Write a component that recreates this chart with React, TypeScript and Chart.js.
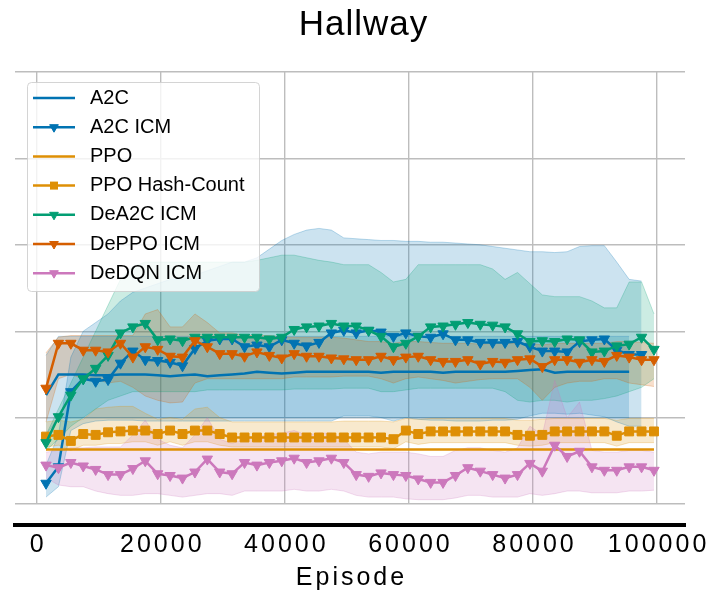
import React, { useEffect, useRef } from 'react';
import { Chart, registerables, LinearScale } from 'chart.js';

Chart.register(...registerables);

class SpacedLinearScale extends LinearScale {
  static id = 'spacedLinear';
  static defaults = LinearScale.defaults;
  drawLabels(chartArea: any) {
    const ctx = this.ctx as any;
    ctx.save();
    ctx.letterSpacing = '3px';
    ctx.translate(1.5, 0);
    super.drawLabels(chartArea);
    ctx.restore();
  }
  drawTitle() {
    const ctx = this.ctx as any;
    ctx.save();
    ctx.letterSpacing = '3px';
    ctx.translate(1.5, 0);
    super.drawTitle();
    ctx.restore();
  }
}
Chart.register(SpacedLinearScale as any);

const FONT = "'Liberation Sans', Arial, Helvetica, sans-serif";

// ---------------- data ----------------
const episodes = [
  1500, 3500, 5500, 7500, 9500, 11500, 13500, 15500, 17500, 19500,
  21500, 23500, 25500, 27500, 29500, 31500, 33500, 35500, 37500, 39500,
  41500, 43500, 45500, 47500, 49500, 51500, 53500, 55500, 57500, 59500,
  61500, 63500, 65500, 67500, 69500, 71500, 73500, 75500, 77500, 79500,
  81500, 83500, 85500, 87500, 89500, 91500, 93500, 95500, 97500, 99500,
];
const xTickValues = [0, 20000, 40000, 60000, 80000, 100000];
const yGridValues = [0, 1, 2, 3, 4, 5];

const a2cMean = [
  1.26, 1.50, 1.50, 1.50, 1.49, 1.49, 1.50, 1.50, 1.50, 1.49,
  1.48, 1.49, 1.50, 1.48, 1.49, 1.50, 1.51, 1.53, 1.52, 1.51,
  1.52, 1.53, 1.53, 1.53, 1.53, 1.53, 1.53, 1.52, 1.53, 1.53,
  1.53, 1.53, 1.52, 1.53, 1.53, 1.53, 1.53, 1.53, 1.54, 1.55,
  1.56, 1.52, 1.53, 1.53, 1.53, 1.53, 1.53, 1.53, null, null,
];
const a2cLo = [
  0.80, 1.00, 1.00, 1.00, 1.00, 1.00, 1.00, 1.00, 1.00, 1.00,
  1.00, 1.00, 1.00, 1.00, 1.00, 1.00, 1.00, 1.00, 1.00, 1.00,
  1.00, 1.00, 1.00, 1.00, 1.00, 1.00, 1.00, 1.00, 1.00, 1.00,
  1.00, 1.00, 1.00, 1.00, 1.00, 1.00, 1.00, 1.00, 1.00, 1.00,
  1.00, 1.00, 1.00, 1.00, 1.00, 1.00, 1.00, 1.00, null, null,
];
const a2cHi = [
  1.72, 1.94, 1.94, 1.94, 1.94, 1.94, 1.94, 1.94, 1.94, 1.94,
  1.94, 1.94, 1.94, 1.94, 1.94, 1.94, 1.94, 1.94, 1.94, 1.94,
  1.94, 1.94, 1.94, 1.94, 1.94, 1.94, 1.94, 1.94, 1.94, 1.94,
  1.94, 1.94, 1.94, 1.94, 1.94, 1.94, 1.94, 1.94, 1.94, 1.94,
  1.94, 1.94, 1.94, 1.94, 1.94, 1.94, 1.94, 1.94, null, null,
];

const a2cIcmMean = [
  0.24, 0.43, 1.30, 1.45, 1.42, 1.44, 1.63, 1.77, 1.67, 1.66,
  1.64, 1.60, 1.80, 1.89, 1.91, 1.91, 1.82, 1.84, 1.82, 1.90,
  1.86, 1.83, 1.87, 1.98, 2.01, 1.98, 2.01, 1.99, 1.94, 1.98,
  1.94, 1.93, 1.97, 1.90, 1.90, 1.87, 1.87, 1.87, 1.88, 1.82,
  1.77, 1.77, 1.76, 1.88, 1.90, 1.91, 1.78, 1.73, 1.73, null,
];
const a2cIcmHi = [
  0.45, 0.80, 1.70, 2.00, 2.10, 2.20, 2.35, 2.45, 2.50, 2.55,
  2.60, 2.60, 2.65, 2.70, 2.75, 2.80, 2.80, 2.85, 2.95, 3.05,
  3.12, 3.17, 3.19, 3.17, 3.08, 3.07, 3.06, 3.05, 3.05, 3.04,
  3.04, 3.03, 3.03, 3.02, 3.01, 3.00, 2.98, 2.96, 2.94, 2.92,
  2.92, 2.91, 2.92, 2.98, 2.99, 2.99, 2.80, 2.60, 2.58, null,
];
const a2cIcmLo = [
  0.08, 0.20, 0.85, 0.93, 0.96, 0.97, 0.97, 0.97, 0.96, 0.96,
  0.96, 0.96, 0.96, 0.96, 0.96, 0.96, 0.96, 0.96, 0.96, 0.96,
  0.96, 0.96, 0.96, 0.96, 1.02, 1.02, 1.02, 1.00, 0.96, 1.00,
  0.98, 0.97, 0.97, 0.96, 0.96, 0.96, 0.97, 0.97, 0.98, 1.02,
  1.05, 1.05, 1.04, 1.05, 1.03, 1.01, 0.95, 0.90, 0.90, null,
];

const ppoMean = [
  0.63, 0.63, 0.63, 0.63, 0.63, 0.63, 0.63, 0.63, 0.63, 0.63,
  0.63, 0.63, 0.63, 0.63, 0.63, 0.63, 0.63, 0.63, 0.63, 0.63,
  0.63, 0.63, 0.63, 0.63, 0.63, 0.63, 0.63, 0.63, 0.63, 0.63,
  0.63, 0.63, 0.63, 0.63, 0.63, 0.63, 0.63, 0.63, 0.63, 0.63,
  0.63, 0.63, 0.63, 0.63, 0.63, 0.63, 0.63, 0.63, 0.63, 0.63,
];

const ppoHashMean = [
  0.78, 0.80, 0.73, 0.81, 0.80, 0.83, 0.84, 0.85, 0.85, 0.81,
  0.85, 0.81, 0.85, 0.85, 0.81, 0.77, 0.77, 0.77, 0.77, 0.77,
  0.77, 0.77, 0.77, 0.77, 0.77, 0.77, 0.77, 0.77, 0.75, 0.85,
  0.81, 0.84, 0.84, 0.84, 0.84, 0.84, 0.84, 0.84, 0.80, 0.79,
  0.80, 0.84, 0.84, 0.84, 0.84, 0.84, 0.79, 0.84, 0.84, 0.84,
];
const ppoHashHi = [
  0.95, 0.97, 0.95, 0.98, 1.10, 1.12, 1.13, 1.13, 1.05, 0.98,
  1.00, 0.98, 1.10, 1.12, 1.00, 0.95, 0.95, 0.95, 0.95, 0.95,
  0.95, 0.95, 0.95, 0.95, 0.96, 0.96, 0.96, 0.96, 0.95, 0.99,
  0.98, 0.99, 0.99, 0.99, 0.99, 0.99, 0.99, 0.99, 0.97, 0.97,
  0.98, 0.99, 0.99, 0.99, 0.99, 0.99, 0.97, 0.99, 0.99, 0.99,
];
const ppoHashLo = [
  0.66, 0.68, 0.62, 0.68, 0.68, 0.70, 0.70, 0.72, 0.72, 0.68,
  0.72, 0.68, 0.72, 0.72, 0.68, 0.66, 0.66, 0.66, 0.66, 0.66,
  0.66, 0.66, 0.66, 0.66, 0.66, 0.66, 0.66, 0.66, 0.64, 0.72,
  0.69, 0.71, 0.71, 0.71, 0.71, 0.71, 0.71, 0.71, 0.68, 0.67,
  0.68, 0.71, 0.71, 0.71, 0.71, 0.71, 0.67, 0.71, 0.71, 0.71,
];

const deA2cMean = [
  0.71, 1.01, 1.26, 1.45, 1.57, 1.72, 1.98, 2.05, 2.09, 1.90,
  1.91, 1.89, 1.93, 1.93, 1.93, 1.93, 1.93, 1.93, 1.91, 1.93,
  2.02, 2.05, 2.06, 2.09, 2.06, 2.06, 2.01, 1.94, 1.82, 1.86,
  1.94, 2.05, 2.06, 2.08, 2.10, 2.08, 2.07, 2.05, 1.97, 1.88,
  1.89, 1.88, 1.91, 1.90, 1.76, 1.77, 1.83, 1.85, 1.93, 1.79,
];
const deA2cHi = [
  0.80, 1.10, 1.40, 1.70, 2.00, 2.30, 2.60, 2.75, 2.80, 2.80,
  2.80, 2.80, 2.80, 2.80, 2.80, 2.80, 2.80, 2.82, 2.85, 2.88,
  2.88, 2.85, 2.82, 2.80, 2.77, 2.77, 2.77, 2.68, 2.57, 2.60,
  2.77, 2.77, 2.77, 2.77, 2.77, 2.77, 2.72, 2.60, 2.68, 2.55,
  2.42, 2.40, 2.40, 2.40, 2.35, 2.27, 2.27, 2.57, 2.57, 2.20,
];
const deA2cLo = [
  0.62, 0.75, 0.90, 1.00, 1.10, 1.20, 1.25, 1.30, 1.30, 1.30,
  1.30, 1.30, 1.30, 1.32, 1.32, 1.32, 1.32, 1.32, 1.32, 1.32,
  1.33, 1.33, 1.33, 1.33, 1.34, 1.34, 1.34, 1.30, 1.30, 1.32,
  1.34, 1.34, 1.34, 1.34, 1.34, 1.34, 1.34, 1.30, 1.20, 1.18,
  1.20, 1.20, 1.18, 1.20, 1.20, 1.22, 1.25, 1.30, 1.35, 1.45,
];

const dePpoMean = [
  1.34, 1.86, 1.86, 1.78, 1.78, 1.76, 1.86, 1.70, 1.82, 1.79,
  1.71, 1.70, 1.89, 1.82, 1.74, 1.74, 1.71, 1.76, 1.72, 1.69,
  1.74, 1.71, 1.71, 1.69, 1.68, 1.67, 1.67, 1.71, 1.67, 1.70,
  1.71, 1.67, 1.65, 1.65, 1.67, 1.62, 1.65, 1.64, 1.67, 1.68,
  1.59, 1.67, 1.67, 1.64, 1.67, 1.65, 1.72, 1.70, 1.67, 1.67,
];
const dePpoHi = [
  1.75, 1.93, 1.95, 1.95, 1.95, 1.95, 1.95, 1.95, 2.20, 2.25,
  2.05, 2.05, 2.20, 2.10, 1.98, 1.98, 1.95, 1.95, 1.95, 1.93,
  1.93, 1.93, 1.93, 1.93, 1.92, 1.90, 1.88, 1.88, 1.86, 1.88,
  1.88, 1.87, 1.86, 1.86, 1.86, 1.85, 1.86, 1.86, 1.86, 1.86,
  1.84, 1.86, 1.86, 1.86, 1.86, 1.86, 1.88, 1.88, 1.87, 1.86,
];
const dePpoLo = [
  0.95, 1.45, 1.50, 1.45, 1.45, 1.40, 1.42, 1.35, 1.25, 1.20,
  1.17, 1.18, 1.40, 1.45, 1.45, 1.45, 1.45, 1.45, 1.45, 1.45,
  1.47, 1.47, 1.47, 1.47, 1.48, 1.48, 1.48, 1.45, 1.40, 1.45,
  1.47, 1.45, 1.43, 1.40, 1.42, 1.44, 1.45, 1.45, 1.45, 1.35,
  1.20, 1.35, 1.40, 1.42, 1.42, 1.45, 1.45, 1.40, 1.38, 1.36,
];

const deDqnMean = [
  0.45, 0.42, 0.48, 0.44, 0.40, 0.34, 0.34, 0.41, 0.50, 0.35,
  0.33, 0.30, 0.37, 0.52, 0.37, 0.35, 0.48, 0.45, 0.48, 0.50,
  0.53, 0.48, 0.50, 0.53, 0.48, 0.34, 0.32, 0.36, 0.34, 0.33,
  0.29, 0.25, 0.25, 0.33, 0.42, 0.38, 0.34, 0.30, 0.34, 0.47,
  0.38, 0.68, 0.55, 0.61, 0.43, 0.39, 0.39, 0.43, 0.43, 0.39,
];
const deDqnHi = [
  0.60, 0.62, 0.65, 0.65, 0.66, 0.66, 0.66, 0.80, 0.97, 0.75,
  0.68, 0.65, 0.80, 1.00, 0.75, 0.70, 0.75, 0.78, 0.80, 0.82,
  0.85, 0.80, 0.82, 0.82, 0.75, 0.60, 0.58, 0.60, 0.60, 0.60,
  0.58, 0.55, 0.55, 0.62, 0.65, 0.65, 0.62, 0.60, 0.65, 0.90,
  0.80, 1.43, 1.00, 1.18, 0.62, 0.60, 0.60, 0.62, 0.62, 0.60,
];
const deDqnLo = [
  0.30, 0.22, 0.20, 0.20, 0.15, 0.12, 0.10, 0.10, 0.12, 0.12,
  0.10, 0.08, 0.10, 0.12, 0.12, 0.10, 0.15, 0.15, 0.15, 0.15,
  0.17, 0.15, 0.15, 0.17, 0.15, 0.10, 0.08, 0.08, 0.08, 0.06,
  0.05, 0.05, 0.05, 0.07, 0.10, 0.10, 0.08, 0.08, 0.08, 0.12,
  0.10, 0.12, 0.15, 0.15, 0.13, 0.13, 0.13, 0.15, 0.15, 0.16,
];

// ---------------- styling ----------------
const BLUE = [1, 115, 178];
const ORANGE = [222, 143, 5];
const GREEN = [2, 158, 115];
const RED = [213, 94, 0];
const PINK = [204, 120, 188];
const rgba = (c: number[], a: number) => `rgba(${c[0]},${c[1]},${c[2]},${a})`;

type Series = {
  label: string;
  color: number[];
  mean: (number | null)[];
  lo: (number | null)[] | null;
  hi: (number | null)[] | null;
  marker: 'triangle' | 'rect' | null;
};

const seriesList: Series[] = [
  { label: 'A2C', color: BLUE, mean: a2cMean, lo: a2cLo, hi: a2cHi, marker: null },
  { label: 'A2C ICM', color: BLUE, mean: a2cIcmMean, lo: a2cIcmLo, hi: a2cIcmHi, marker: 'triangle' },
  { label: 'PPO', color: ORANGE, mean: ppoMean, lo: null, hi: null, marker: null },
  { label: 'PPO Hash-Count', color: ORANGE, mean: ppoHashMean, lo: ppoHashLo, hi: ppoHashHi, marker: 'rect' },
  { label: 'DeA2C ICM', color: GREEN, mean: deA2cMean, lo: deA2cLo, hi: deA2cHi, marker: 'triangle' },
  { label: 'DePPO ICM', color: RED, mean: dePpoMean, lo: dePpoLo, hi: dePpoHi, marker: 'triangle' },
  { label: 'DeDQN ICM', color: PINK, mean: deDqnMean, lo: deDqnLo, hi: deDqnHi, marker: 'triangle' },
];

const toPoints = (vals: (number | null)[]) => episodes.map((x, i) => ({ x, y: vals[i] }));

function buildDatasets() {
  const ds: any[] = [];
  seriesList.forEach((s, k) => {
    if (!s.lo || !s.hi) return;
    ds.push({
      label: '',
      data: toPoints(s.lo),
      borderColor: rgba(s.color, 0.25),
      borderWidth: 1,
      pointRadius: 0,
      fill: false,
      order: 30 - k,
      xAxisID: 'x',
      yAxisID: 'y',
    });
    ds.push({
      label: '',
      data: toPoints(s.hi),
      borderColor: rgba(s.color, 0.25),
      backgroundColor: rgba(s.color, 0.2),
      borderWidth: 1,
      pointRadius: 0,
      fill: '-1',
      order: 30 - k,
      xAxisID: 'x',
      yAxisID: 'y',
    });
  });
  seriesList.forEach((s, k) => {
    ds.push({
      label: s.label,
      inLegend: true,
      marker: s.marker,
      data: toPoints(s.mean),
      borderColor: rgba(s.color, 1),
      backgroundColor: rgba(s.color, 1),
      borderWidth: 2.5,
      tension: 0,
      fill: false,
      pointStyle: s.marker === 'rect' ? 'rect' : 'triangle',
      pointRotation: s.marker === 'triangle' ? 180 : 0,
      pointRadius: s.marker === 'rect' ? 6.3 : s.marker === 'triangle' ? 6 : 0,
      pointBorderWidth: 1,
      pointBorderColor: rgba(s.color, 1),
      pointBackgroundColor: rgba(s.color, 1),
      order: 10 - k,
      xAxisID: 'x',
      yAxisID: 'y',
    });
  });
  return ds;
}

const spacingPlugin = {
  id: 'titleSpacing',
  beforeDraw(chart: any) {
    chart.ctx.letterSpacing = '1px';
  },
  afterDraw(chart: any) {
    chart.ctx.letterSpacing = '0px';
  },
};

const boxLegendPlugin = {
  id: 'boxLegend',
  afterDatasetsDraw(chart: any) {
    const ctx = chart.ctx;
    const area = chart.chartArea;
    const items = chart.data.datasets.filter((d: any) => d.inLegend);
    ctx.save();
    ctx.letterSpacing = '0px';
    const fx = area.left + 12.5;
    const fy = area.top + 10.5;
    const fw = 232;
    const fh = 209;
    ctx.beginPath();
    if (ctx.roundRect) ctx.roundRect(fx, fy, fw, fh, 4);
    else ctx.rect(fx, fy, fw, fh);
    ctx.fillStyle = 'rgba(255,255,255,0.8)';
    ctx.fill();
    ctx.strokeStyle = 'rgba(204,204,204,0.85)';
    ctx.lineWidth = 1;
    ctx.stroke();
    items.forEach((d: any, k: number) => {
      const y = area.top + 26 + k * 29.2;
      const x1 = area.left + 18;
      const x2 = area.left + 60;
      const cx = (x1 + x2) / 2;
      ctx.strokeStyle = d.borderColor;
      ctx.fillStyle = d.borderColor;
      ctx.lineWidth = 2.5;
      ctx.beginPath();
      ctx.moveTo(x1, y);
      ctx.lineTo(x2, y);
      ctx.stroke();
      if (d.marker === 'triangle') {
        const r = 5;
        ctx.beginPath();
        ctx.moveTo(cx, y + r);
        ctx.lineTo(cx - r * 0.866, y - r / 2);
        ctx.lineTo(cx + r * 0.866, y - r / 2);
        ctx.closePath();
        ctx.fill();
        ctx.lineWidth = 1;
        ctx.stroke();
      } else if (d.marker === 'rect') {
        ctx.fillRect(cx - 4, y - 4, 8, 8);
      }
      ctx.fillStyle = '#000';
      ctx.font = `20px ${FONT}`;
      ctx.textAlign = 'left';
      ctx.textBaseline = 'middle';
      ctx.fillText(d.label, area.left + 75, y);
    });
    ctx.restore();
  },
};

const setXTicks = (scale: any) => {
  scale.ticks = xTickValues.map((v) => ({ value: v }));
};
const setYTicks = (scale: any) => {
  scale.ticks = yGridValues.map((v) => ({ value: v }));
};

const GRID = '#bdbdbd';

export default function App() {
  const ref = useRef<HTMLCanvasElement>(null);
  useEffect(() => {
    if (!ref.current) return;
    const chart = new Chart(ref.current, {
      type: 'line',
      data: { datasets: buildDatasets() },
      options: {
        animation: false,
        responsive: false,
        devicePixelRatio: 1,
        layout: { padding: { left: 15, right: 0, top: 0, bottom: 3 } },
        plugins: {
          legend: { display: false },
          tooltip: { enabled: false },
          title: {
            display: true,
            text: 'Hallway',
            color: '#000',
            font: { family: FONT, size: 35, weight: 'normal' },
            padding: { top: 4, bottom: 26 },
          },
          filler: { drawTime: 'beforeDatasetsDraw', propagate: false },
        },
        scales: {
          x: {
            type: 'linear',
            axis: 'x',
            position: 'bottom',
            weight: 0,
            min: -3500,
            max: 104500,
            afterBuildTicks: setXTicks,
            ticks: { display: false },
            grid: { color: GRID, lineWidth: 1.4, drawTicks: true, tickLength: 21, tickColor: 'rgba(0,0,0,0)' },
            border: { display: false },
          },
          xLabels: {
            type: 'spacedLinear',
            axis: 'x',
            position: 'bottom',
            weight: 1,
            min: -3500,
            max: 104500,
            afterBuildTicks: setXTicks,
            ticks: {
              color: '#000',
              font: { family: FONT, size: 25, lineHeight: 1.2 },
              padding: 5,
              autoSkip: false,
              maxRotation: 0,
              minRotation: 0,
              callback: (v: any) => String(v),
            },
            grid: { display: false, drawTicks: false, tickLength: 0 },
            border: { display: true, color: '#000', width: 4 },
            title: {
              display: true,
              text: 'Episode',
              color: '#000',
              font: { family: FONT, size: 25, lineHeight: 1.04 },
              padding: { top: 0, bottom: 0 },
            },
          },
          y: {
            type: 'linear',
            axis: 'y',
            position: 'left',
            min: 0,
            max: 5,
            afterBuildTicks: setYTicks,
            ticks: { display: false },
            grid: { color: GRID, lineWidth: 1.4, drawTicks: false },
            border: { display: false },
          },
          yPad: {
            type: 'linear',
            axis: 'y',
            position: 'right',
            min: 0,
            max: 1,
            ticks: { display: false },
            grid: { drawOnChartArea: false, drawTicks: true, tickLength: 27, tickColor: 'rgba(0,0,0,0)' },
            border: { display: false },
          },
        },
      } as any,
      plugins: [spacingPlugin, boxLegendPlugin],
    });
    return () => chart.destroy();
  }, []);
  return (
    <div style={{ position: 'absolute', left: 0, top: 0, width: 712, height: 594, background: '#fff' }}>
      <canvas ref={ref} width={712} height={594} style={{ display: 'block', width: 712, height: 594 }} />
    </div>
  );
}
